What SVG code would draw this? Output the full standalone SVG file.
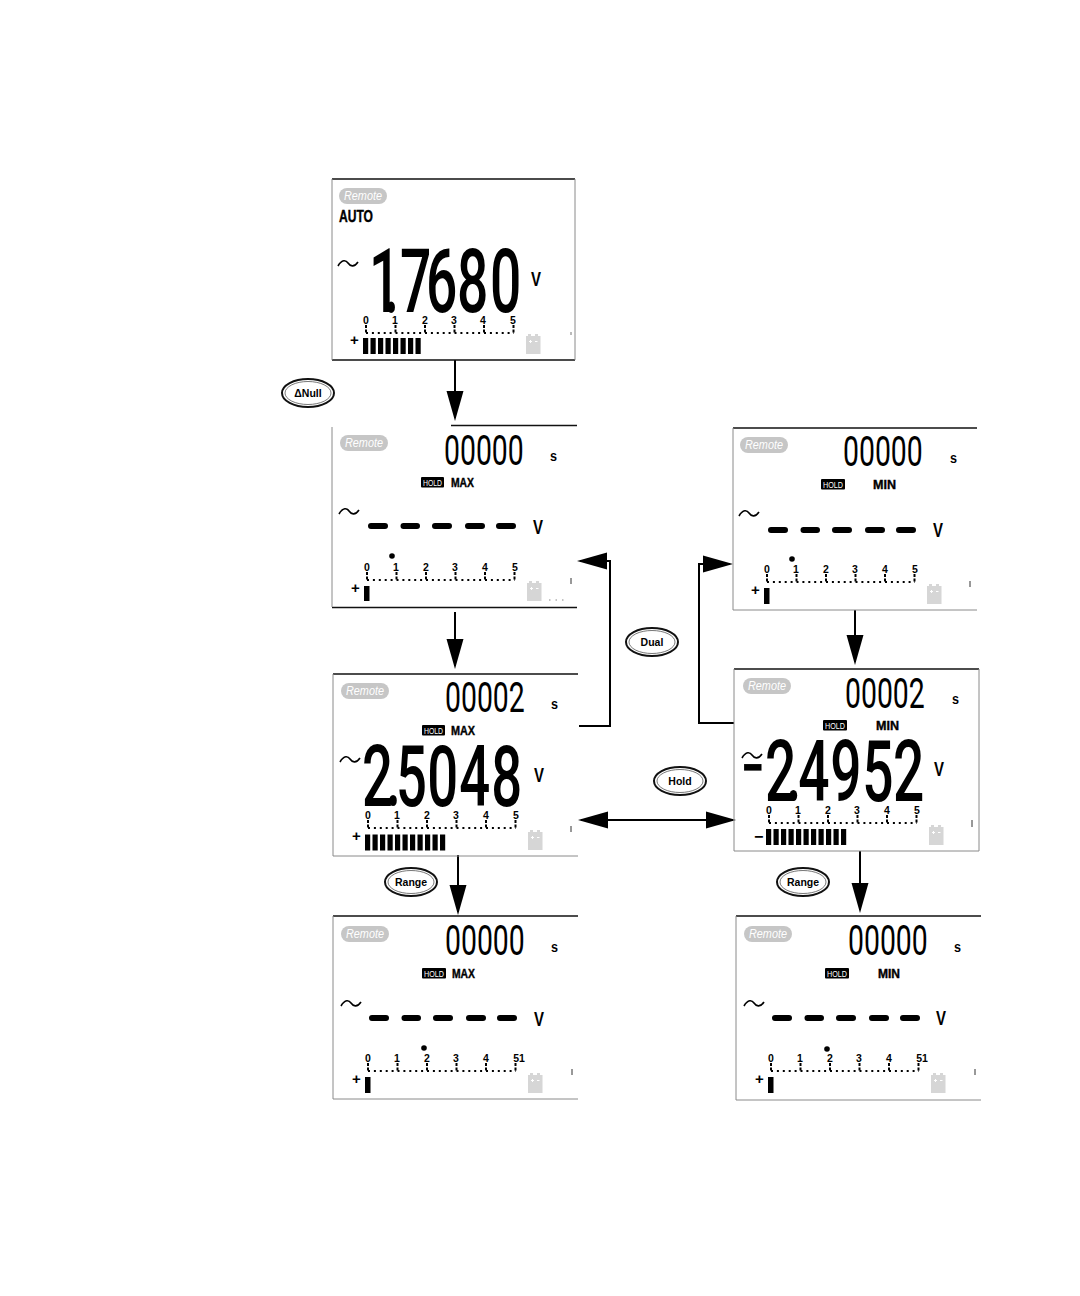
<svg xmlns="http://www.w3.org/2000/svg" xmlns:xlink="http://www.w3.org/1999/xlink" width="1080" height="1296" viewBox="0 0 1080 1296">
<style>
text{font-family:"Liberation Sans",Arial,sans-serif;fill:#000}
.rem{font-size:12px;font-style:italic;fill:#fff}
.big{font-family:Roboto,"Liberation Sans",sans-serif;font-weight:500}
.sm{font-family:Roboto,"Liberation Sans",sans-serif;font-size:43px}
.hd{font-size:8.500px;fill:#fff}
.mm{font-size:12.500px;font-weight:700;stroke:#000;stroke-width:.4}
.sd{font-size:10.500px;font-weight:700;text-anchor:middle}
.un{font-size:20px;font-weight:700}
.sec{font-size:14px;font-weight:700}
.btn{font-size:10.500px;font-weight:700;text-anchor:middle}
.pill{fill:#c6c6c6}
.blk{stroke:#111;stroke-width:1.300;fill:none}
.gry{stroke:#8a8a8a;stroke-width:1;fill:none}
.til{stroke:#000;stroke-width:1.600;fill:none}
.bars{stroke:#000;stroke-width:16;stroke-dasharray:5.200 2.300}
.conn{stroke:#000;stroke-width:2;fill:none}
.key{fill:#fff;stroke:#111;stroke-width:2}
.key2{fill:none;stroke:#555;stroke-width:.8}
</style>
<defs>
<g id="ticks">
<path d="M0 -8V0M29.500 -8V0M59 -8V0M88.500 -8V0M118 -8V0M147.500 -8V0" stroke="#000" stroke-width="2" stroke-dasharray="3 1.500"/>
<path d="M0 0H148" stroke="#000" stroke-width="2" stroke-dasharray="2 3.900"/>
</g>
<g id="batt">
<rect x="0" y="2" width="14.500" height="18" fill="#d6d6d6"/><rect x="2" y="0" width="3" height="3" fill="#d6d6d6"/><rect x="9" y="0" width="3" height="3" fill="#d6d6d6"/>
<path d="M3 7.500H6M4.500 6V9M9 7.500H11.500" stroke="#fff" stroke-width="1"/>
</g>
<g id="dashes">
<path d="M3 0H17M35.500 0H49M67 0H81M100 0H114M131 0H145" stroke="#000" stroke-width="6" stroke-linecap="round" fill="none"/>
</g>
<path id="tilde" d="M0 3C4 -4 8 -3 10 0S16 5 20 -1" class="til"/>
<marker id="head" markerUnits="userSpaceOnUse" markerWidth="30" markerHeight="18" refX="27" refY="9" orient="auto-start-reverse"><path d="M0 0.500L30 9L0 17.500Z" fill="#000"/></marker>
</defs>

<g id="connectors">
<path class="conn" d="M455 360V418" marker-end="url(#head)"/>
<path class="conn" d="M455 612V666" marker-end="url(#head)"/>
<path class="conn" d="M458 855V912" marker-end="url(#head)"/>
<path class="conn" d="M579 726H610V561H580" marker-end="url(#head)"/>
<path class="conn" d="M734 723H699V564H730" marker-end="url(#head)"/>
<path class="conn" d="M581 820H733" marker-start="url(#head)" marker-end="url(#head)"/>
<path class="conn" d="M855 610V662" marker-end="url(#head)"/>
<path class="conn" d="M860 851V910" marker-end="url(#head)"/>
</g>

<g id="panel-auto">
<path class="blk" d="M332 179H575M332 360H575"/><path class="gry" d="M332 179V360M575 179V360"/>
<rect class="pill" x="339" y="188" width="48" height="16" rx="8"/><text class="rem" x="344" y="200" textLength="38" lengthAdjust="spacingAndGlyphs">Remote</text>
<text class="mm" x="339" y="222" font-size="16" style="font-size:16px" textLength="34" lengthAdjust="spacingAndGlyphs">AUTO</text>
<use href="#tilde" x="338" y="263"/>
<text class="big" font-size="89" transform="translate(369 312) scale(.62 1)" x="0 24 50 92 142 195" y="0">1.7680</text>
<text class="un" x="531" y="286" textLength="10" lengthAdjust="spacingAndGlyphs">V</text>
<use href="#ticks" x="366" y="333"/>
<text class="sd" x="366" y="323.500">0</text><text class="sd" x="395" y="323.500">1</text><text class="sd" x="425" y="323.500">2</text><text class="sd" x="454" y="323.500">3</text><text class="sd" x="483" y="323.500">4</text><text class="sd" x="513" y="323.500">5</text>
<text x="350" y="345" font-size="15" font-weight="700">+</text>
<path class="bars" d="M363 346H421"/>
<use href="#batt" x="526" y="334"/>
<path d="M571 332V335" stroke="#777"/>
</g>

<g id="panel-max-empty">
<path class="blk" d="M451 425.500H577M332 607.500H577"/><path class="gry" d="M332 427V607"/>
<rect class="pill" x="340" y="435" width="48" height="16" rx="8"/><text class="rem" x="345" y="447" textLength="38" lengthAdjust="spacingAndGlyphs">Remote</text>
<text class="sm" transform="translate(444 465) scale(.66 1)">00000</text>
<text class="sec" x="550" y="461" textLength="7" lengthAdjust="spacingAndGlyphs">s</text>
<rect x="421" y="477" width="23" height="10.500" rx="1"/><text class="hd" x="423" y="485.500" textLength="19" lengthAdjust="spacingAndGlyphs">HOLD</text>
<text class="mm" x="451" y="487" textLength="23" lengthAdjust="spacingAndGlyphs">MAX</text>
<use href="#tilde" x="339" y="511"/>
<use href="#dashes" x="368" y="526"/>
<text class="un" x="533" y="534" textLength="10" lengthAdjust="spacingAndGlyphs">V</text>
<circle cx="392" cy="556" r="2.800"/>
<use href="#ticks" x="367" y="580"/>
<text class="sd" x="367" y="570.500">0</text><text class="sd" x="396" y="570.500">1</text><text class="sd" x="426" y="570.500">2</text><text class="sd" x="455" y="570.500">3</text><text class="sd" x="485" y="570.500">4</text><text class="sd" x="515" y="570.500">5</text>
<text x="351" y="593" font-size="15" font-weight="700">+</text>
<rect x="364" y="586" width="5.500" height="15"/>
<use href="#batt" x="527" y="581"/>
<path d="M571 578V584" stroke="#333"/>
<path d="M549 600H565" stroke="#888" stroke-dasharray="1.500 5"/>
</g>

<g id="panel-max-value">
<path class="blk" d="M333 674H578"/><path class="gry" d="M333 674V856H578"/>
<rect class="pill" x="341" y="683" width="48" height="16" rx="8"/><text class="rem" x="346" y="695" textLength="38" lengthAdjust="spacingAndGlyphs">Remote</text>
<text class="sm" transform="translate(445 712) scale(.66 1)">00002</text>
<text class="sec" x="551" y="709" textLength="7" lengthAdjust="spacingAndGlyphs">s</text>
<rect x="422" y="725" width="23" height="10.500" rx="1"/><text class="hd" x="424" y="733.500" textLength="19" lengthAdjust="spacingAndGlyphs">HOLD</text>
<text class="mm" x="451" y="735" textLength="24" lengthAdjust="spacingAndGlyphs">MAX</text>
<use href="#tilde" x="340" y="759"/>
<text class="big" font-size="85" transform="translate(362 806) scale(.64 1)" x="0 37 53 102 152 202" y="0">2.5048</text>
<text class="un" x="534" y="782" textLength="10" lengthAdjust="spacingAndGlyphs">V</text>
<use href="#ticks" x="368" y="828"/>
<text class="sd" x="368" y="818.500">0</text><text class="sd" x="397" y="818.500">1</text><text class="sd" x="427" y="818.500">2</text><text class="sd" x="456" y="818.500">3</text><text class="sd" x="486" y="818.500">4</text><text class="sd" x="516" y="818.500">5</text>
<text x="352" y="841" font-size="15" font-weight="700">+</text>
<path class="bars" d="M365 842.500H446"/>
<use href="#batt" x="528" y="830"/>
<path d="M571 826V832" stroke="#333"/>
</g>

<g id="panel-max-range">
<path class="blk" d="M333 916H578"/><path class="gry" d="M333 916V1099H578"/>
<rect class="pill" x="341" y="926" width="48" height="16" rx="8"/><text class="rem" x="346" y="938" textLength="38" lengthAdjust="spacingAndGlyphs">Remote</text>
<text class="sm" transform="translate(445 955) scale(.66 1)">00000</text>
<text class="sec" x="551" y="952" textLength="7" lengthAdjust="spacingAndGlyphs">s</text>
<rect x="422" y="968" width="24" height="10.500" rx="1"/><text class="hd" x="424" y="976.500" textLength="20" lengthAdjust="spacingAndGlyphs">HOLD</text>
<text class="mm" x="452" y="978" textLength="23" lengthAdjust="spacingAndGlyphs">MAX</text>
<use href="#tilde" x="341" y="1003"/>
<use href="#dashes" x="369" y="1018"/>
<text class="un" x="534" y="1026" textLength="10" lengthAdjust="spacingAndGlyphs">V</text>
<circle cx="424" cy="1048" r="2.800"/>
<use href="#ticks" x="368" y="1071"/>
<text class="sd" x="368" y="1061.500">0</text><text class="sd" x="397" y="1061.500">1</text><text class="sd" x="427" y="1061.500">2</text><text class="sd" x="456" y="1061.500">3</text><text class="sd" x="486" y="1061.500">4</text><text class="sd" x="519" y="1061.500">51</text>
<text x="352" y="1084" font-size="15" font-weight="700">+</text>
<rect x="365" y="1077" width="5.500" height="16"/>
<use href="#batt" x="528" y="1073"/>
<path d="M572 1069V1075" stroke="#333"/>
</g>

<g id="panel-min-empty">
<path class="blk" d="M733 428H977"/><path class="gry" d="M733 428V610H977"/>
<rect class="pill" x="740" y="437" width="48" height="16" rx="8"/><text class="rem" x="745" y="449" textLength="38" lengthAdjust="spacingAndGlyphs">Remote</text>
<text class="sm" transform="translate(843 466) scale(.66 1)">00000</text>
<text class="sec" x="950" y="463" textLength="7" lengthAdjust="spacingAndGlyphs">s</text>
<rect x="821" y="479" width="24" height="10.500" rx="1"/><text class="hd" x="823" y="487.500" textLength="20" lengthAdjust="spacingAndGlyphs">HOLD</text>
<text class="mm" x="873" y="489" textLength="23" lengthAdjust="spacingAndGlyphs">MIN</text>
<use href="#tilde" x="739" y="513"/>
<use href="#dashes" x="768" y="530"/>
<text class="un" x="933" y="537" textLength="10" lengthAdjust="spacingAndGlyphs">V</text>
<circle cx="792" cy="559" r="2.800"/>
<use href="#ticks" x="767" y="582"/>
<text class="sd" x="767" y="572.500">0</text><text class="sd" x="796" y="572.500">1</text><text class="sd" x="826" y="572.500">2</text><text class="sd" x="855" y="572.500">3</text><text class="sd" x="885" y="572.500">4</text><text class="sd" x="915" y="572.500">5</text>
<text x="751" y="595" font-size="15" font-weight="700">+</text>
<rect x="764" y="588" width="5.500" height="16"/>
<use href="#batt" x="927" y="584"/>
<path d="M970 581V587" stroke="#333"/>
</g>

<g id="panel-min-value">
<path class="blk" d="M734 669H979"/><path class="gry" d="M734 669V851H979M979 669V851"/>
<rect class="pill" x="743" y="678" width="48" height="16" rx="8"/><text class="rem" x="748" y="690" textLength="38" lengthAdjust="spacingAndGlyphs">Remote</text>
<text class="sm" transform="translate(845 708) scale(.66 1)">00002</text>
<text class="sec" x="952" y="704" textLength="7" lengthAdjust="spacingAndGlyphs">s</text>
<rect x="823" y="720" width="24" height="10.500" rx="1"/><text class="hd" x="825" y="728.500" textLength="20" lengthAdjust="spacingAndGlyphs">HOLD</text>
<text class="mm" x="876" y="730" textLength="23" lengthAdjust="spacingAndGlyphs">MIN</text>
<use href="#tilde" x="742" y="755"/>
<text class="big" font-size="70" transform="translate(741 792) scale(.6 1)">−</text>
<text class="big" font-size="86" transform="translate(765 801) scale(.64 1)" x="0 33 52 102 152 200" y="0">2.4952</text>
<text class="un" x="934" y="776" textLength="10" lengthAdjust="spacingAndGlyphs">V</text>
<use href="#ticks" x="769" y="823"/>
<text class="sd" x="769" y="813.500">0</text><text class="sd" x="798" y="813.500">1</text><text class="sd" x="828" y="813.500">2</text><text class="sd" x="857" y="813.500">3</text><text class="sd" x="887" y="813.500">4</text><text class="sd" x="917" y="813.500">5</text>
<text x="754" y="842" font-size="16" font-weight="700">−</text>
<path class="bars" d="M766 837H847"/>
<use href="#batt" x="929" y="825"/>
<path d="M972 820V827" stroke="#333"/>
</g>

<g id="panel-min-range">
<path class="blk" d="M736 916H981"/><path class="gry" d="M736 916V1100H981"/>
<rect class="pill" x="744" y="926" width="48" height="16" rx="8"/><text class="rem" x="749" y="938" textLength="38" lengthAdjust="spacingAndGlyphs">Remote</text>
<text class="sm" transform="translate(848 955) scale(.66 1)">00000</text>
<text class="sec" x="954" y="952" textLength="7" lengthAdjust="spacingAndGlyphs">s</text>
<rect x="825" y="968" width="24" height="10.500" rx="1"/><text class="hd" x="827" y="976.500" textLength="20" lengthAdjust="spacingAndGlyphs">HOLD</text>
<text class="mm" x="878" y="978" textLength="22" lengthAdjust="spacingAndGlyphs">MIN</text>
<use href="#tilde" x="744" y="1003"/>
<use href="#dashes" x="772" y="1018"/>
<text class="un" x="936" y="1025" textLength="10" lengthAdjust="spacingAndGlyphs">V</text>
<circle cx="827" cy="1049" r="2.800"/>
<use href="#ticks" x="771" y="1071"/>
<text class="sd" x="771" y="1061.500">0</text><text class="sd" x="800" y="1061.500">1</text><text class="sd" x="830" y="1061.500">2</text><text class="sd" x="859" y="1061.500">3</text><text class="sd" x="889" y="1061.500">4</text><text class="sd" x="922" y="1061.500">51</text>
<text x="755" y="1084" font-size="15" font-weight="700">+</text>
<rect x="768" y="1077" width="5.500" height="16"/>
<use href="#batt" x="931" y="1073"/>
<path d="M975 1069V1075" stroke="#333"/>
</g>

<g id="btn-null"><ellipse class="key" cx="308" cy="393" rx="26" ry="14"/><ellipse class="key2" cx="308" cy="393" rx="23" ry="11.500"/><text class="btn" x="308" y="397">ΔNull</text></g>
<g id="btn-dual"><ellipse class="key" cx="652" cy="642" rx="26" ry="14"/><ellipse class="key2" cx="652" cy="642" rx="23" ry="11.500"/><text class="btn" x="652" y="646">Dual</text></g>
<g id="btn-hold"><ellipse class="key" cx="680" cy="781" rx="26" ry="14"/><ellipse class="key2" cx="680" cy="781" rx="23" ry="11.500"/><text class="btn" x="680" y="785">Hold</text></g>
<g id="btn-range-max"><ellipse class="key" cx="411" cy="882" rx="26" ry="14"/><ellipse class="key2" cx="411" cy="882" rx="23" ry="11.500"/><text class="btn" x="411" y="886">Range</text></g>
<g id="btn-range-min"><ellipse class="key" cx="803" cy="882" rx="26" ry="14"/><ellipse class="key2" cx="803" cy="882" rx="23" ry="11.500"/><text class="btn" x="803" y="886">Range</text></g>
</svg>
